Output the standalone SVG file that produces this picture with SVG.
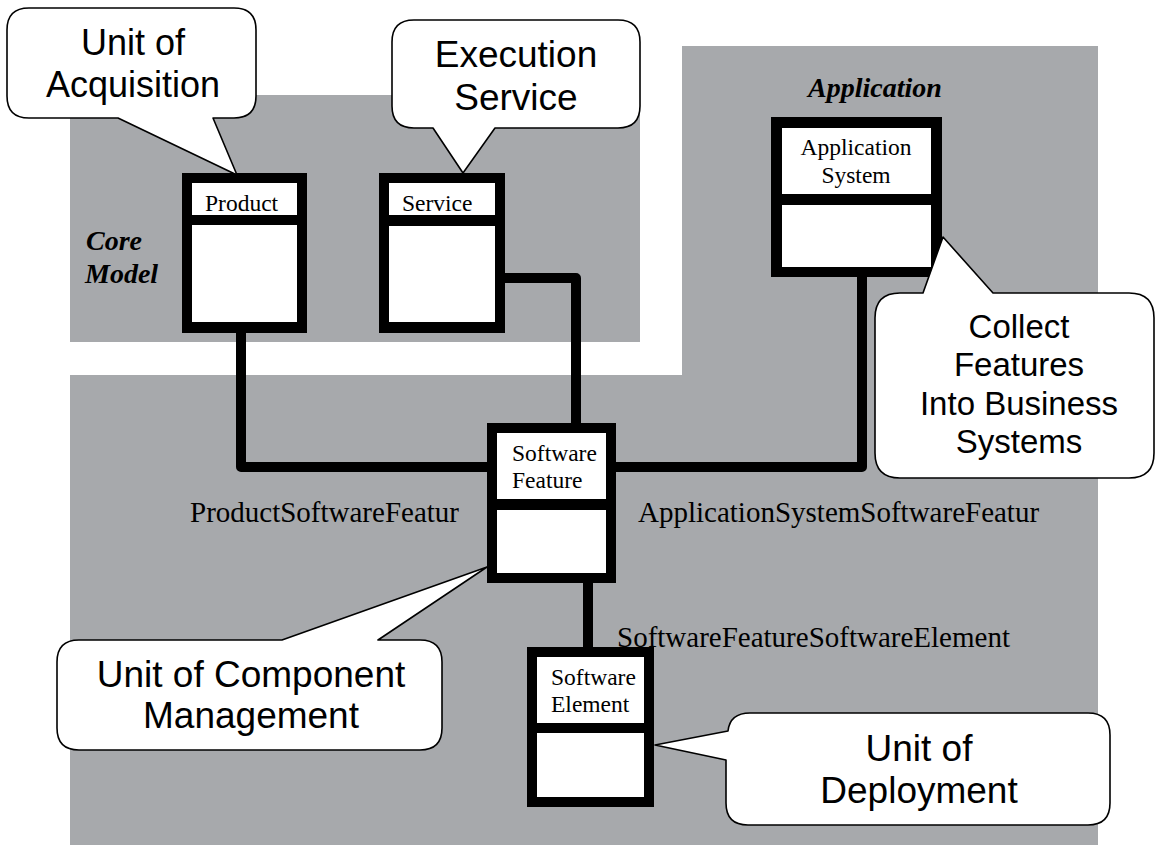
<svg xmlns="http://www.w3.org/2000/svg" width="1157" height="845" viewBox="0 0 1157 845">
  <style>
    .zone { fill: #a7a9ac; }
    .frame { fill: #000; }
    .cell { fill: #fff; }
    .name { font-family: "Liberation Serif", "Times New Roman", serif; font-size: 23.5px; fill: #000; }
    .assoc { font-family: "Liberation Serif", "Times New Roman", serif; font-size: 29px; fill: #000; }
    .pkg { font-family: "Liberation Serif", "Times New Roman", serif; font-size: 28px; font-weight: bold; font-style: italic; fill: #000; }
    .link { fill: none; stroke: #000; stroke-width: 10; stroke-linejoin: round; }
    .bubble { fill: #fff; stroke: #000; stroke-width: 1.6; stroke-linejoin: round; }
    .note { font-family: "Liberation Sans", Arial, sans-serif; font-size: 37px; fill: #000; text-anchor: middle; }
  </style>

  <!-- package backgrounds -->
  <g id="packages">
    <rect id="core-model" class="zone" x="70" y="95" width="570" height="247"/>
    <path id="application-area" class="zone" d="M682,46 H1098 V845 H70 V375 H682 Z"/>
    <text class="pkg" x="86" y="250">Core</text>
    <text class="pkg" x="85" y="283">Model</text>
    <text class="pkg" x="808" y="97">Application</text>
  </g>

  <!-- associations -->
  <g id="connectors">
    <path class="link" d="M241,333 V467 H487"/>
    <path class="link" d="M505,278 H576 V423"/>
    <path class="link" d="M616,467 H862 V277"/>
    <path class="link" d="M588,583 V647"/>
  </g>

  <!-- classes -->
  <g id="product">
    <rect class="frame" x="182" y="173" width="125" height="160"/>
    <rect class="cell" x="192" y="183" width="105" height="32"/>
    <rect class="cell" x="192" y="225" width="105" height="97"/>
    <text class="name" x="205" y="211">Product</text>
  </g>
  <g id="service">
    <rect class="frame" x="379" y="173" width="126" height="160"/>
    <rect class="cell" x="389" y="183" width="106" height="32"/>
    <rect class="cell" x="389" y="226" width="106" height="96"/>
    <text class="name" x="402" y="211">Service</text>
  </g>
  <g id="application-system">
    <rect class="frame" x="771" y="117" width="171" height="160"/>
    <rect class="cell" x="782" y="128" width="149" height="66"/>
    <rect class="cell" x="782" y="205" width="149" height="62"/>
    <text class="name" x="856" y="155" text-anchor="middle">Application</text>
    <text class="name" x="856" y="183" text-anchor="middle">System</text>
  </g>
  <g id="software-feature">
    <rect class="frame" x="487" y="423" width="129" height="160"/>
    <rect class="cell" x="497" y="433" width="109" height="66"/>
    <rect class="cell" x="497" y="510" width="109" height="63"/>
    <text class="name" x="512" y="461">Software</text>
    <text class="name" x="512" y="488">Feature</text>
  </g>
  <g id="software-element">
    <rect class="frame" x="527" y="647" width="127" height="160"/>
    <rect class="cell" x="537" y="657" width="107" height="66"/>
    <rect class="cell" x="537" y="733" width="107" height="64"/>
    <text class="name" x="551" y="685">Software</text>
    <text class="name" x="551" y="712">Element</text>
  </g>

  <!-- association names -->
  <g id="association-labels">
    <text class="assoc" x="190" y="522">ProductSoftwareFeatur</text>
    <text class="assoc" x="638" y="522">ApplicationSystemSoftwareFeatur</text>
    <text class="assoc" x="617" y="647">SoftwareFeatureSoftwareElement</text>
  </g>

  <!-- callouts -->
  <g id="note-acquisition">
    <path class="bubble" d="M29,8 H234 Q256,8 256,30 V96 Q256,118 234,118 H213 L237,175 L118,118 H29 Q7,118 7,96 V30 Q7,8 29,8 Z"/>
    <text class="note" x="133" y="55" style="font-size:36px">Unit of</text>
    <text class="note" x="133" y="97" style="font-size:36px">Acquisition</text>
  </g>
  <g id="note-execution">
    <path class="bubble" d="M414,20 H618 Q640,20 640,42 V106 Q640,128 618,128 H495 L463,173 L433,128 H414 Q392,128 392,106 V42 Q392,20 414,20 Z"/>
    <text class="note" x="516" y="67">Execution</text>
    <text class="note" x="516" y="110">Service</text>
  </g>
  <g id="note-collect">
    <path class="bubble" d="M900,293 H923 L943,237 L993,293 H1129 Q1154,293 1154,318 V453 Q1154,478 1129,478 H900 Q875,478 875,453 V318 Q875,293 900,293 Z"/>
    <text class="note" x="1019" y="338" style="font-size:33px">Collect</text>
    <text class="note" x="1019" y="376" style="font-size:33px">Features</text>
    <text class="note" x="1019" y="415" style="font-size:33px">Into Business</text>
    <text class="note" x="1019" y="453" style="font-size:33px">Systems</text>
  </g>
  <g id="note-component">
    <path class="bubble" d="M79,640 H282 L487,567 L378,640 H420 Q442,640 442,662 V728 Q442,750 420,750 H79 Q57,750 57,728 V662 Q57,640 79,640 Z"/>
    <text class="note" x="251" y="687">Unit of Component</text>
    <text class="note" x="251" y="728">Management</text>
  </g>
  <g id="note-deployment">
    <path class="bubble" d="M750,713 H1088 Q1110,713 1110,735 V803 Q1110,825 1088,825 H748 Q726,825 726,803 V760 L655,745 L728,731 Q730,713 750,713 Z"/>
    <text class="note" x="919" y="761">Unit of</text>
    <text class="note" x="919" y="803">Deployment</text>
  </g>
</svg>
